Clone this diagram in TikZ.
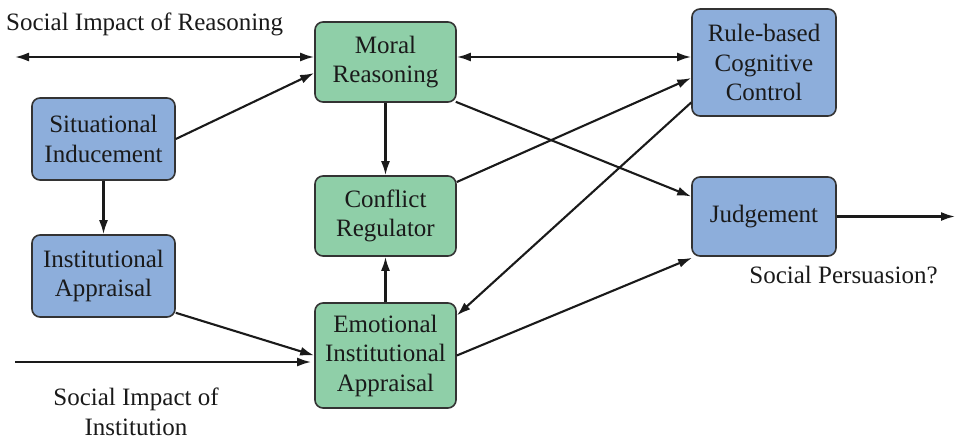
\documentclass[tikz,border=0pt]{standalone}
\usepackage{fontspec}
\setmainfont{Liberation Serif}
\newfontfamily\tnr{Liberation Serif}
\usetikzlibrary{arrows.meta}
\definecolor{boxgreen}{HTML}{8FCFA8}
\definecolor{boxblue}{HTML}{8DAEDB}
\definecolor{edge}{HTML}{333333}
\definecolor{ink}{HTML}{1A1A1A}
\tikzset{
  box/.style={draw=edge, line width=1.6pt, rounded corners=8pt, align=center,
    text=ink, font=\tnr\fontsize{25}{29.5}\selectfont, inner sep=0pt},
  gbox/.style={box, fill=boxgreen},
  bbox/.style={box, fill=boxblue},
  conn/.style={draw=ink, line width=2.1pt, -{Latex[length=14pt,width=9pt]}},
  biconn/.style={draw=ink, line width=2.1pt, {Latex[length=14pt,width=9pt]}-{Latex[length=14pt,width=9pt]}},
  lbl/.style={text=ink, font=\tnr\fontsize{25}{29.5}\selectfont, inner sep=0pt, align=center}
}
\begin{document}
\begin{tikzpicture}[x=1pt,y=-1pt]
\useasboundingbox (0,0) rectangle (956,439);
% nodes
\node[gbox, minimum width=141pt, minimum height=80pt] (mr) at (385.5,62) {Moral\\Reasoning};
\node[bbox, minimum width=143pt, minimum height=82pt] (si) at (103.5,139) {Situational\\Inducement};
\node[gbox, minimum width=141pt, minimum height=80pt] (cr) at (385.5,216) {Conflict\\Regulator};
\node[bbox, minimum width=143pt, minimum height=82pt] (ia) at (103.5,276) {Institutional\\Appraisal};
\node[gbox, minimum width=141pt, minimum height=105pt] (ea) at (385.5,355.5) {Emotional\\Institutional\\Appraisal};
\node[bbox, minimum width=144pt, minimum height=107pt] (rc) at (764,62.5) {Rule-based\\Cognitive\\Control};
\node[bbox, minimum width=144pt, minimum height=79pt] (jd) at (764,216.5) {Judgement};
% labels
\node[lbl, anchor=west] (l1) at (6,24) {Social Impact of Reasoning};
\node[lbl] (l2) at (843.5,275) {Social Persuasion?};
\node[lbl] (l3) at (136,412) {Social Impact of\\Institution};
% free ends
\coordinate (tl) at (15,57);
\coordinate (bl) at (15,362);
\coordinate (rr) at (955,216.5);
% connectors
\draw[biconn] (tl) -- ([yshift=5pt]mr.west);
\draw[biconn] ([yshift=5pt]mr.east) -- ([yshift=5.5pt]rc.west);
\draw[conn] (si.east) -- ([yshift=-11pt]mr.west);
\draw[conn] (mr.south) -- (cr.north);
\draw[conn] (si.south) -- (ia.north);
\draw[conn] ([yshift=5pt]ia.south east) -- (ea.west);
\draw[conn] (bl) -- ([yshift=-6.5pt,xshift=-3pt]ea.west);
\draw[conn] (ea.north) -- (cr.south);
\draw[conn] ([xshift=-1pt,yshift=1pt]mr.south east) -- ([yshift=20pt]jd.west);
\draw[conn] ([yshift=34pt]cr.east) -- ([yshift=-15.5pt]rc.west);
\draw[conn] ([yshift=-40pt]rc.west) -- ([yshift=40pt]ea.east);
\draw[conn] (ea.east) -- ([xshift=1pt,yshift=-1pt]jd.south west);
\draw[conn] (jd.east) -- (rr);
\end{tikzpicture}
\end{document}
